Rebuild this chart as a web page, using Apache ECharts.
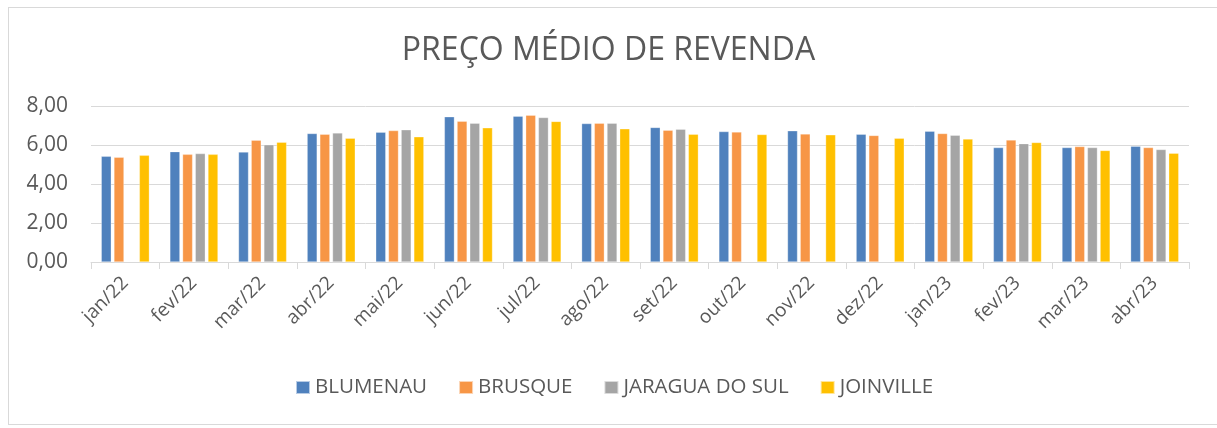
<!DOCTYPE html>
<html>
<head>
<meta charset="utf-8">
<script src="https://cdn.jsdelivr.net/npm/echarts@6/dist/echarts.min.js"></script>
<style>
  html, body { margin: 0; padding: 0; background: #fff; }
  #frame { position: absolute; left: 8px; top: 7px; width: 1220px; height: 418px; border: 1px solid #d9d9d9; box-sizing: border-box; }
  #chart { position: absolute; left: 0; top: 0; width: 1217px; height: 428px; }
</style>
</head>
<body>
<div id="frame"></div>
<div id="chart"></div>
<script>
// meses (jan/22 .. abr/23)
const months = ['jan/22', 'fev/22', 'mar/22', 'abr/22', 'mai/22', 'jun/22', 'jul/22', 'ago/22',
  'set/22', 'out/22', 'nov/22', 'dez/22', 'jan/23', 'fev/23', 'mar/23', 'abr/23']

// preço médio de revenda por cidade (null = sem dado)
const blumenau = [5.42, 5.66, 5.64, 6.59, 6.66, 7.45, 7.48, 7.10, 6.90, 6.69, 6.73, 6.55, 6.71, 5.87, 5.87, 5.94]
const brusque = [5.37, 5.52, 6.25, 6.55, 6.74, 7.22, 7.53, 7.12, 6.76, 6.67, 6.57, 6.49, 6.59, 6.26, 5.92, 5.87]
const jaragua = [null, 5.56, 6.01, 6.62, 6.78, 7.12, 7.41, 7.12, 6.81, null, null, null, 6.50, 6.07, 5.87, 5.77]
const joinville = [5.47, 5.52, 6.14, 6.35, 6.42, 6.88, 7.21, 6.83, 6.55, 6.54, 6.52, 6.35, 6.31, 6.13, 5.72, 5.58]

const yTicks = { min: 0, max: 8, interval: 2 }

const PALETTE = ['#4f81bd', '#f79646', '#a5a5a5', '#ffc000']
const TEXT = '#595959'
const LINE = '#d9d9d9'
const FONT = 'Open Sans, Noto Sans, sans-serif'

const chart = echarts.init(document.getElementById('chart'), null, { renderer: 'canvas' })

const mkSeries = (name, data) => ({
  name,
  type: 'bar',
  data,
  barWidth: 10,
  barGap: '27%',
  itemStyle: { borderColor: 'rgba(255,255,255,0.6)', borderWidth: 0.5 },
})

chart.setOption({
  animation: false,
  color: PALETTE,
  textStyle: { fontFamily: FONT, color: TEXT },
  title: {
    text: 'PREÇO MÉDIO DE REVENDA',
    left: 'center',
    top: 30,
    textStyle: { fontFamily: FONT, fontSize: 32, fontWeight: 'normal', color: TEXT },
  },
  legend: {
    top: 377,
    left: 295,
    padding: 0,
    itemWidth: 14,
    itemHeight: 13,
    itemGap: 31,
    icon: 'rect',
    textStyle: { fontFamily: FONT, fontSize: 20.5, color: TEXT, padding: [0, 0, 0, 0] },
    data: ['BLUMENAU', 'BRUSQUE', 'JARAGUA DO SUL', 'JOINVILLE'],
  },
  grid: { left: 91, right: 28, top: 106, bottom: 166, containLabel: false },
  xAxis: {
    type: 'category',
    data: months,
    axisLine: { lineStyle: { color: LINE, width: 1 } },
    axisTick: { show: true, length: 7, lineStyle: { color: LINE } },
    axisLabel: { rotate: 45, fontSize: 19, color: TEXT, margin: 18, fontFamily: FONT },
  },
  yAxis: {
    type: 'value',
    min: yTicks.min,
    max: yTicks.max,
    interval: yTicks.interval,
    axisLine: { show: false },
    axisTick: { show: false },
    axisLabel: {
      fontSize: 21, color: TEXT, margin: 23, fontFamily: FONT,
      formatter: v => v.toFixed(2).replace('.', ','),
    },
    splitLine: { lineStyle: { color: LINE, width: 1 } },
  },
  series: [
    mkSeries('BLUMENAU', blumenau),
    mkSeries('BRUSQUE', brusque),
    mkSeries('JARAGUA DO SUL', jaragua),
    mkSeries('JOINVILLE', joinville),
  ],
})
</script>
</body>
</html>
